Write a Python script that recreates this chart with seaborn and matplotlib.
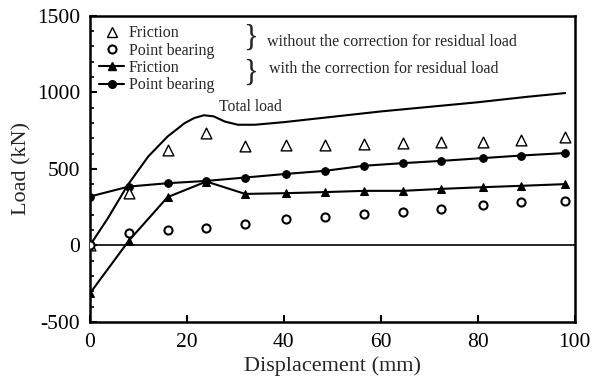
import matplotlib
matplotlib.use("Agg")
import matplotlib.pyplot as plt
import seaborn as sns
import pandas as pd
from matplotlib.lines import Line2D
from matplotlib.ticker import MultipleLocator

sns.set_style("ticks")
plt.rcParams['font.family'] = ['Liberation Serif', 'DejaVu Serif']
plt.rcParams['axes.unicode_minus'] = False

# Data
disp = [0, 8, 16, 24, 32, 40.5, 48.5, 56.5, 64.5, 72.5, 81, 89, 98]
friction_without = [0, 345, 624, 733, 646, 657, 657, 660, 668, 678, 678, 690, 707]
point_without = [0, 80, 101, 116, 140, 169, 186, 206, 221, 237, 265, 280, 293]
friction_with = [-313, 30, 315, 417, 336, 341, 348, 356, 356, 369, 380, 389, 400]
point_with = [319, 384, 406, 421, 443, 467, 487, 520, 537, 552, 570, 587, 603]
total_disp = [0, 3.7, 7.8, 12, 16, 19.5, 21.5, 23.5, 25.5, 27.8, 30.5, 34, 40, 50, 60, 70, 80, 90, 98]
total_load = [0, 178, 395, 580, 711, 798, 832, 850, 843, 809, 788, 788, 805, 840, 875, 905, 935, 970, 995]

df = pd.DataFrame({"disp": disp, "fw": friction_without, "pw": point_without,
                   "fc": friction_with, "pc": point_with})
dt = pd.DataFrame({"disp": total_disp, "total": total_load})

fig = plt.figure(figsize=(5.92, 3.85), dpi=100)
ax = fig.add_axes([0.152, 0.164, 0.819, 0.795])

ax.axhline(0, color="black", lw=1.2, zorder=1)
sns.lineplot(data=dt, x="disp", y="total", ax=ax, color="black", lw=1.5)
sns.lineplot(data=df, x="disp", y="fc", ax=ax, color="black", lw=1.5,
             marker="^", markersize=6, markeredgecolor="black")
sns.lineplot(data=df, x="disp", y="pc", ax=ax, color="black", lw=1.5,
             marker="o", markersize=5.5, markeredgecolor="black")
sns.scatterplot(data=df, x="disp", y="fw", ax=ax, marker="^", s=60,
                facecolor="white", edgecolor="black", linewidth=1.0, zorder=3)
sns.scatterplot(data=df, x="disp", y="pw", ax=ax, marker="o", s=34,
                facecolor="white", edgecolor="black", linewidth=1.5, zorder=3)

ax.set_xlim(0, 100)
ax.set_ylim(-500, 1500)
ax.xaxis.set_major_locator(MultipleLocator(20))
ax.yaxis.set_major_locator(MultipleLocator(500))
ax.yaxis.set_minor_locator(MultipleLocator(100))
ax.tick_params(axis="both", which="both", direction="in", labelsize=15.5,
               width=1.5, colors="black")
ax.tick_params(axis="both", which="major", length=5)
ax.tick_params(axis="x", which="major", pad=8)
ax.tick_params(axis="y", which="major", pad=7)
ax.tick_params(axis="y", which="minor", length=3, width=1.2)
for s in ax.spines.values():
    s.set_linewidth(1.8)
    s.set_color("black")
ax.set_xlabel("Displacement (mm)", fontsize=16, labelpad=3)
ax.set_ylabel("Load (kN)", fontsize=16, labelpad=4)

ax.text(33, 905, "Total load", fontsize=11.3, ha="center", va="center")

handles = [
    Line2D([], [], ls="none", marker="^", markersize=7.5, mfc="white", mec="black", mew=1.0),
    Line2D([], [], ls="none", marker="o", markersize=5.8, mfc="white", mec="black", mew=1.5),
    Line2D([], [], color="black", lw=1.5, marker="^", markersize=6),
    Line2D([], [], color="black", lw=1.5, marker="o", markersize=5.5),
]
labels = ["Friction", "Point bearing", "Friction", "Point bearing"]
ax.legend(handles, labels, loc="upper left", bbox_to_anchor=(-0.005, 1.005),
          frameon=False, fontsize=11.5, handlelength=1.6, handletextpad=0.3,
          labelspacing=0.08, borderaxespad=0.3)

ax.text(31.5, 1355, "}", fontsize=22, ha="left", va="center")
ax.text(31.5, 1122, "}", fontsize=22, ha="left", va="center")
ax.text(36.6, 1330, "without the correction for residual load", fontsize=11.5, va="center")
ax.text(37.0, 1152, "with the correction for residual load", fontsize=11.5, va="center")

fig.savefig("out.png", dpi=100)
